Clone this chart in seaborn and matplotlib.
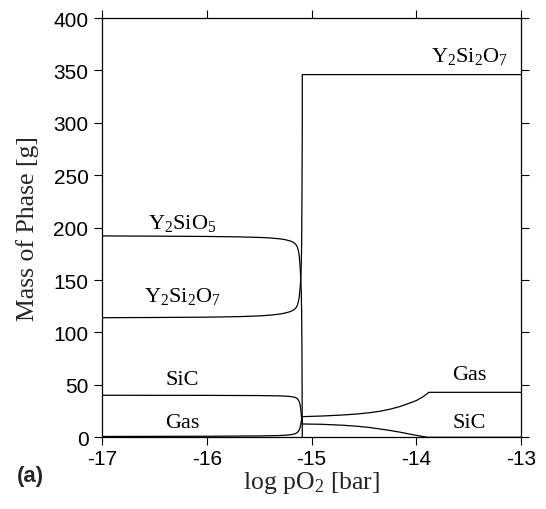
import matplotlib
matplotlib.use('Agg')
import matplotlib.pyplot as plt
import pandas as pd
import seaborn as sns

# Phase masses (log pO2 in bar, mass in g)
y2sio5_x = [-17.0, -16.5, -16.0, -15.7, -15.5, -15.4, -15.3, -15.25, -15.2, -15.17, -15.15, -15.135,
            -15.125, -15.117, -15.111, -15.106, -15.102, -15.098, -15.094, -15.091, -15.088]
y2sio5_y = [192.1, 191.9, 191.6, 191.2, 190.7, 190.2, 189.3, 188.5, 187.2, 185.8, 184.0, 181.5,
            178.0, 173.0, 166.0, 158.0, 150.0, 140.0, 120.0, 80.0, 0.0]

y2si2o7_x = [-17.0, -16.5, -16.0, -15.7, -15.5, -15.4, -15.3, -15.25, -15.2, -15.17, -15.15, -15.135,
             -15.125, -15.117, -15.111, -15.106, -15.102, -15.098, -15.094, -15.091, -15.088, -15.088, -13.0]
y2si2o7_y = [114.1, 114.3, 114.6, 115.1, 115.8, 116.5, 117.6, 118.6, 120.0, 121.5, 123.3, 126.0,
             129.5, 134.0, 140.0, 146.0, 152.0, 162.0, 185.0, 230.0, 300.0, 346.0, 346.0]

sic_x = [-17.0, -16.0, -15.5, -15.3, -15.22, -15.18, -15.155, -15.14, -15.128, -15.118, -15.11, -15.104,
         -15.099, -15.094, -15.09, -15.088, -14.9, -14.7, -14.57, -14.45, -14.35, -14.25, -14.15, -14.08,
         -14.0, -13.95, -13.91, -13.887, -13.0]
sic_y = [40.1, 40.0, 39.8, 39.5, 39.1, 38.6, 38.0, 37.2, 36.0, 34.2, 31.5, 28.0,
         23.0, 17.5, 14.0, 12.7, 12.4, 11.5, 10.6, 9.4, 8.0, 6.5, 4.8, 3.4,
         1.9, 1.0, 0.3, 0.0, 0.0]

gas_x = [-17.0, -16.0, -15.5, -15.3, -15.22, -15.18, -15.155, -15.14, -15.128, -15.118, -15.11, -15.104,
         -15.099, -15.094, -15.088, -14.9, -14.7, -14.57, -14.45, -14.35, -14.25, -14.15, -14.08,
         -14.0, -13.95, -13.91, -13.88, -13.0]
gas_y = [0.8, 1.0, 1.3, 1.7, 2.2, 2.8, 3.5, 4.3, 5.4, 7.0, 9.0, 11.5,
         14.5, 17.5, 19.7, 20.3, 21.3, 22.2, 23.4, 24.8, 26.8, 29.5, 32.0,
         35.0, 37.8, 40.5, 42.9, 42.9]

phase_labels = [r'$\mathrm{Y_2SiO_5}$', r'$\mathrm{Y_2Si_2O_7}$', 'SiC', 'Gas',
                r'$\mathrm{Y_2Si_2O_7}$', 'Gas', 'SiC']
label_x = [-16.23, -16.23, -16.23, -16.23, -13.49, -13.49, -13.49]
label_y = [205, 135, 55.6, 14.3, 364, 59.8, 14.3]

xticks = [-17, -16, -15, -14, -13]
yticks = [0, 50, 100, 150, 200, 250, 300, 350, 400]

frames = []
for name, xs, ys in [('Y2SiO5', y2sio5_x, y2sio5_y), ('Y2Si2O7', y2si2o7_x, y2si2o7_y),
                     ('SiC', sic_x, sic_y), ('Gas', gas_x, gas_y)]:
    frames.append(pd.DataFrame({'logpO2': xs, 'mass': ys, 'phase': name}))
df = pd.concat(frames, ignore_index=True)

sns.set_style('ticks')
plt.rcParams['font.family'] = ['Liberation Sans', 'DejaVu Sans']
plt.rcParams['mathtext.fontset'] = 'custom'
plt.rcParams['mathtext.rm'] = 'Liberation Serif'
plt.rcParams['mathtext.it'] = 'Liberation Serif:italic'
plt.rcParams['mathtext.bf'] = 'Liberation Serif:bold'

fig = plt.figure(figsize=(5.46, 5.10), dpi=100)
ax = fig.add_axes([102 / 546, 1 - 438.3 / 510, 419 / 546, 419.3 / 510])

sns.lineplot(data=df, x='logpO2', y='mass', units='phase', estimator=None, sort=False,
             color='black', linewidth=0.9, ax=ax, legend=False)

ax.set_xlim(-17, -13)
ax.set_ylim(0, 400)
ax.set_xticks(xticks)
ax.set_yticks(yticks)
ax.set_xticklabels([str(t) for t in xticks])
ax.tick_params(direction='out', top=True, right=True, length=5.8, width=0.8,
               labelsize=15, colors='black')
ax.tick_params(axis='x', pad=2.5)
ax.tick_params(axis='y', pad=4)
for s in ax.spines.values():
    s.set_linewidth(0.9)
    s.set_color('black')

ax.set_xlabel(r'log pO$_2$ [bar]', family='Liberation Serif', fontsize=18.5, labelpad=1)
ax.set_ylabel('Mass of Phase [g]', family='Liberation Serif', fontsize=18.5, labelpad=10)

for txt, lx, ly in zip(phase_labels, label_x, label_y):
    ax.text(lx, ly, txt, ha='center', va='center', fontsize=16,
            family='Liberation Serif', color='black')

fig.text(30 / 546, 1 - 477 / 510, '(a)', ha='center', va='center',
         fontsize=16, fontweight='bold', family='Liberation Sans')

fig.savefig('out.png', dpi=100)
